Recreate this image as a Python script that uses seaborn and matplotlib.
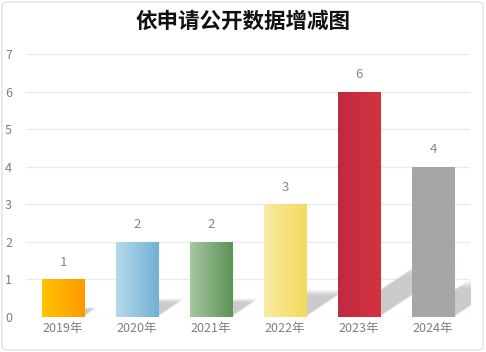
import numpy as np
import pandas as pd
import matplotlib
matplotlib.use("Agg")
import matplotlib.pyplot as plt
from matplotlib.colors import LinearSegmentedColormap
from matplotlib.patches import FancyBboxPatch
import seaborn as sns

# Data
years = ["2019年", "2020年", "2021年", "2022年", "2023年", "2024年"]
counts = [1, 2, 2, 3, 6, 4]
# left -> right gradient colours for each bar
grad_left = ["#FFC400", "#B6D8EA", "#A8C6A2", "#F8EBA4", "#BF2A40", "#A6A6A6"]
grad_right = ["#FF9800", "#72B2D3", "#5C9356", "#F4D95A", "#D5323E", "#A6A6A6"]

sns.set_style("white")
plt.rcParams["font.family"] = ["Noto Sans CJK SC", "DejaVu Sans"]

df = pd.DataFrame({"year": years, "count": counts})

fig = plt.figure(figsize=(4.86, 3.52), dpi=100)
ax = fig.add_axes([0.0535, 0.0994, 0.9135, 0.7472])

sns.barplot(data=df, x="year", y="count", ax=ax, width=0.57, color="white", linewidth=0)

ax.set_xlim(-0.5, 5.5)
ax.set_ylim(0, 7)
ax.set_yticks(range(0, 8))
ax.grid(axis="y", color="#ebebeb", linewidth=0.9)
ax.set_axisbelow(True)
for s in ax.spines.values():
    s.set_visible(False)
ax.set_xlabel("")
ax.set_ylabel("")
ax.tick_params(axis="both", length=0, colors="#7f7f7f", labelsize=9)
ax.tick_params(axis="y", pad=10)

# soft cast shadow (to the upper right), proportional to bar height
def draw_shadow(x0, w, h):
    dx, dy = 0.185 * h, 0.24 * h
    nx, ny = 240, 120
    xs = np.linspace(x0, x0 + w + dx, nx)
    ys = np.linspace(0, dy, ny)
    X, Y = np.meshgrid(xs, ys)
    t = Y / dy
    s = (X - x0 - t * dx) / w
    edge = np.clip(np.minimum(s, 1 - s) / 0.07, 0, 1)
    fade = np.clip((1 - t) / 0.22, 0, 1)
    a = edge * fade * 0.9
    rgba = np.zeros((ny, nx, 4))
    rgba[..., :3] = 0.78
    rgba[..., 3] = a
    ax.imshow(rgba, origin="lower", aspect="auto", extent=(xs[0], xs[-1], 0, dy),
              zorder=1, interpolation="bilinear")

# gradient fill clipped to each bar
for i, bar in enumerate(ax.patches):
    x0 = bar.get_x()
    w = bar.get_width()
    h = bar.get_height()
    draw_shadow(x0, w, h)
    cmap = LinearSegmentedColormap.from_list(f"g{i}", [grad_left[i], grad_right[i]])
    img = ax.imshow(np.linspace(0, 1, 64).reshape(1, -1), cmap=cmap, aspect="auto",
                    extent=(x0, x0 + w, 0, h), zorder=3, interpolation="bilinear")
    img.set_clip_path(bar)
    bar.set_zorder(3)
    ax.text(x0 + w / 2, h + 0.28, str(counts[i]), ha="center", va="bottom",
            color="#7f8790", fontsize=9.5, zorder=4)

ax.set_xlim(-0.5, 5.5)
ax.set_ylim(0, 7)

fig.text(0.5, 0.94, "依申请公开数据增减图", ha="center", va="center",
         fontsize=15.5, fontweight="bold", color="#111111")

# light rounded frame around the figure
frame = FancyBboxPatch((0.004, 0.006), 0.99, 0.988, boxstyle="round,pad=0,rounding_size=0.01",
                       transform=fig.transFigure, facecolor="none", edgecolor="#e6e6e6",
                       linewidth=1.2)
fig.patches.append(frame)

fig.savefig("out.png", dpi=100)
